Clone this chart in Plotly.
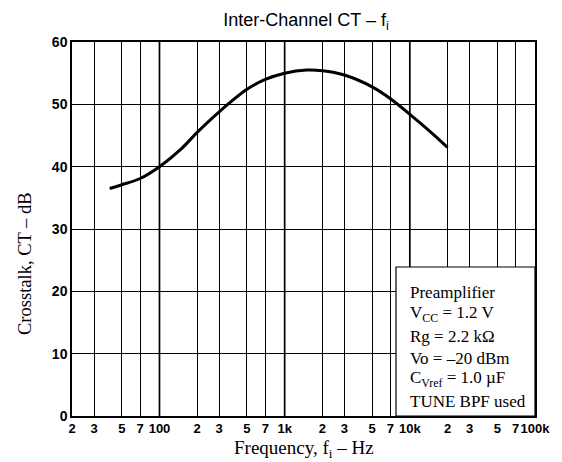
import plotly.graph_objects as go

# Data
freq_hz = [40, 50, 70, 100, 150, 200, 300, 500, 700, 1000, 1500, 2000, 3000, 5000, 7000, 10000, 15000, 20000]
crosstalk_db = [36.5, 37.1, 38.1, 40.0, 42.9, 45.5, 48.8, 52.4, 54.0, 55.0, 55.5, 55.4, 54.7, 52.8, 50.9, 48.4, 45.4, 43.1]

x_tickvals = [20, 30, 50, 70, 100, 200, 300, 500, 700, 1000, 2000, 3000, 5000, 7000,
              10000, 20000, 30000, 50000, 70000, 100000]
x_ticktext = ["2", "3", "5", "7", "100", "2", "3", "5", "7", "1k", "2", "3", "5", "7",
              "10k", "2", "3", "5", "7", "100k"]
y_tickvals = [0, 10, 20, 30, 40, 50, 60]
decades = [100, 1000, 10000]

info_lines = ["Preamplifier", "V<sub>CC</sub> = 1.2 V", "Rg = 2.2 kΩ", "Vo = –20 dBm",
              "C<sub>Vref</sub> = 1.0 µF", "TUNE BPF used"]

fig = go.Figure()
for d in decades:
    fig.add_trace(go.Scatter(x=[d, d], y=[0, 60], mode="lines",
                             line=dict(color="black", width=1.7), hoverinfo="skip", showlegend=False))
fig.add_trace(go.Scatter(x=freq_hz, y=crosstalk_db, mode="lines",
                         line=dict(color="black", width=3, shape="spline", smoothing=1.0),
                         showlegend=False))

# page has an 8px body margin: lay out in page pixels, then convert
OFF = 8
W, H = 562 - OFF, 462 - OFF
PL, PR, PT, PB = 72, 535, 42, 416          # plot area in page pixels
L, R, T, B = PL - OFF, W - (PR - OFF), PT - OFF, H - (PB - OFF)
pw, ph = W - L - R, H - T - B


def px(xp):
    return (xp - PL) / pw


def py(yp):
    return (PB - yp) / ph


fig.add_shape(type="rect", xref="paper", yref="paper", x0=px(396), x1=1.0, y0=0.0, y1=py(267),
              fillcolor="white", line=dict(color="black", width=1.2), layer="above")
line_px = [292, 314, 336, 358, 379, 401]
for txt, yy in zip(info_lines, line_px):
    fig.add_annotation(xref="paper", yref="paper", x=px(408), y=py(yy),
                       text=txt, showarrow=False, xanchor="left", yanchor="middle",
                       font=dict(family="Liberation Serif", size=17, color="black"))

# y-axis title
fig.add_annotation(xref="paper", yref="paper", x=px(25), y=py(264),
                   text="Crosstalk, CT – dB", textangle=-90, showarrow=False,
                   xanchor="center", yanchor="middle",
                   font=dict(family="Liberation Serif", size=18.5, color="black"))
# x-axis title
fig.add_annotation(xref="paper", yref="paper", x=px(304), y=py(449),
                   text="Frequency, f<sub>i</sub> – Hz", showarrow=False,
                   xanchor="center", yanchor="middle",
                   font=dict(family="Liberation Serif", size=19, color="black"))

fig.update_layout(
    width=W, height=H, margin=dict(l=L, r=R, t=T, b=B, autoexpand=False),
    paper_bgcolor="white", plot_bgcolor="white",
    title=dict(text="Inter-Channel CT – f<sub>i</sub>", x=(306 - OFF) / W, xanchor="center",
               y=1 - (20 - OFF) / H, yanchor="middle",
               font=dict(family="Liberation Sans", size=18, color="black")),
    xaxis=dict(type="log", range=[1.30103, 5], tickvals=x_tickvals, ticktext=x_ticktext,
               tickangle=0, automargin=False,
               showgrid=True, gridcolor="black", gridwidth=1, zeroline=False,
               showline=True, linecolor="black", linewidth=1.5, mirror=True, ticks="",
               tickfont=dict(family="Liberation Sans", size=13, color="black", weight="bold")),
    yaxis=dict(range=[0, 60], tickvals=y_tickvals, showgrid=True, gridcolor="black",
               gridwidth=1, zeroline=False, showline=True, linecolor="black", linewidth=1.5,
               mirror=True, ticks="", automargin=False,
               tickfont=dict(family="Liberation Sans", size=14, color="black", weight="bold")),
)

fig.write_html("out.html")
